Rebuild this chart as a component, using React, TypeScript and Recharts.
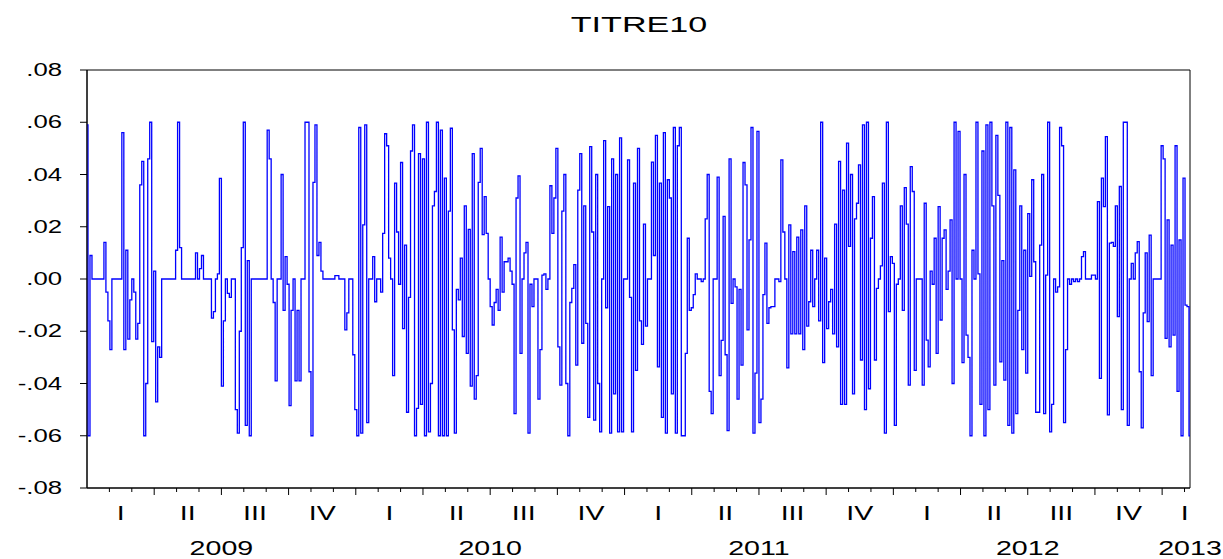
import { Line, LineChart, ReferenceArea, XAxis, YAxis } from "recharts";

const TITLE = "TITRE10";
const FONT = "'Liberation Sans', Arial, sans-serif";
const LINE_COLOR = "#0000ff";

// daily-ish returns, one list per year (evenly spaced through the year)
const Y2009 = [
  0.059, -0.06, 0.009, 0, 0, 0, 0, 0, 0, 0.014,
  -0.005, -0.016, -0.027, 0, 0, 0, 0, 0, 0.056, -0.027,
  0.011, -0.023, -0.008, 0, -0.005, -0.023, -0.017, 0.036, 0.045, -0.06,
  -0.04, 0.046, 0.06, -0.024, 0.003, -0.047, -0.026, -0.03, 0, 0,
  0, 0, 0, 0, 0, 0.011, 0.06, 0.012, 0, 0,
  0, 0, 0, 0, 0, 0.01, 0, 0.004, 0.009, 0,
  0, 0, 0, -0.015, -0.0125, 0, 0.002, 0.0385, -0.041, -0.016,
  0, -0.0055, -0.007, 0, 0, -0.05, -0.059, -0.02, 0.012, 0.06,
  -0.056, 0.007, -0.06, 0, 0, 0, 0, 0, 0, 0,
  0, 0.057, 0.046, 0, -0.009, -0.039, 0, 0, 0.04, -0.012,
  0.0086, -0.002, -0.0485, -0.012, 0, -0.039, -0.012, -0.039, 0, 0,
  0.06, 0.06, -0.0355, -0.06, 0.037, 0.059, 0.009, 0.014, 0.003, 0,
  0, 0, 0, 0, 0, 0.0013, 0.0013, 0, 0, 0,
  -0.0195, -0.013, 0, 0, -0.029,
];

const Y2010 = [
  -0.05, -0.06, 0.058, -0.059, 0.0207, 0.059, -0.055, 0, 0, 0.0086,
  -0.0087, 0, 0, -0.005, 0.0175, 0.0556, 0.051, 0.008, 0, -0.037,
  0.0367, 0.018, -0.002, 0.0446, -0.019, 0.013, -0.051, -0.007, 0.049, 0.059,
  -0.06, -0.0495, 0.048, -0.048, 0.046, -0.06, 0.06, -0.0585, -0.04, 0.028,
  0.0335, 0.06, -0.06, 0.057, -0.06, 0.0386, -0.06, 0.026, 0.0577, -0.0195,
  -0.059, -0.004, -0.008, 0.008, -0.022, 0.028, -0.0285, 0.019, -0.041, 0.048,
  -0.046, -0.037, 0.037, 0.05, 0.017, 0.0315, 0.0175, 0, -0.0106, -0.0176,
  -0.009, -0.004, -0.012, 0.016, -0.005, 0.0066, 0.0066, 0.008, 0.003, -0.002,
  -0.0515, 0.031, 0.0395, -0.0285, 0, 0.01, 0.014, -0.059, -0.002, -0.0106,
  0, 0, -0.046, -0.027, 0.0015, 0.002, -0.004, 0, 0.0357, 0.0175,
  0.031, 0.05, -0.026, -0.0406, 0.026, 0.04, -0.04, -0.06, -0.009, -0.0036,
  0.0055, -0.033, 0.034, 0.048, -0.0246, 0.028, -0.017, -0.053, 0.0507, 0.018,
  -0.054, 0.04, -0.04, -0.0585, 0, 0.053, -0.011, 0.0277, -0.059, 0.046,
  -0.044, 0.04, -0.0585, 0.054, -0.0585,
];

const Y2011 = [
  0, 0, 0.0456, -0.007, -0.0585, 0.0367, -0.035, 0.05, -0.016, -0.025,
  0.021, -0.018, 0, 0, 0.0447, 0.009, 0.055, -0.0336, 0.0367, -0.053,
  0.056, -0.059, 0.038, 0.031, -0.044, 0.058, -0.059, 0.051, 0.058, -0.06,
  -0.06, -0.0285, 0.0156, -0.012, -0.011, -0.006, 0.002, 0, 0, -0.001,
  0, 0.023, 0.04, -0.043, -0.0515, 0, 0, 0.039, -0.037, -0.0235,
  0.024, -0.029, -0.058, 0.046, -0.0093, 0, -0.003, -0.046, -0.004, -0.033,
  0.0446, 0.036, -0.0195, 0.015, 0.058, -0.059, -0.036, 0.0565, -0.055, -0.046,
  -0.006, 0.0137, -0.017, -0.011, -0.0106, -0.0106, 0, 0, -0.001, 0.0456,
  0.018, 0, -0.034, 0.0207, -0.021, 0.0105, -0.021, 0.016, -0.021, 0.0188,
  -0.027, 0.028, -0.018, -0.0087, 0.011, -0.0106, 0, 0.011, -0.016, 0.06,
  -0.032, 0.008, -0.019, -0.0087, -0.004, -0.021, 0.021, -0.026, 0.045, -0.048,
  0.034, -0.048, 0.052, 0.0125, 0.04, -0.044, 0.023, 0.029, 0.0437, -0.031,
  0.059, -0.05, 0.06, -0.042, 0.0156, 0.0315, -0.031, -0.0036, 0, 0.005,
  0.0367, -0.059, 0.06, -0.0125, 0.0086,
];

const Y2012 = [
  0.006, -0.056, -0.002, 0, 0.028, -0.012, 0.035, 0.021, -0.0406, 0.043,
  0.0335, -0.035, 0, 0, 0, -0.0406, 0.029, -0.0234, -0.0336, 0.003,
  -0.002, 0.0156, -0.0285, 0.0277, -0.0157, 0.0156, 0.0188, -0.004, 0.003, 0.0226,
  -0.04, 0.06, 0, 0.0565, 0, -0.032, 0.04, -0.0215, -0.03, -0.06,
  0.011, 0, 0.06, 0.002, -0.048, 0.049, -0.06, 0.059, -0.05, 0.06,
  0.028, -0.0406, 0.055, 0.032, -0.0317, 0.007, -0.0387, 0.06, -0.056, 0.058,
  -0.059, 0.0418, -0.0515, -0.012, 0.028, -0.027, 0.011, -0.036, 0.025, 0.001,
  0.038, 0.0066, -0.051, -0.051, 0.013, 0.04, -0.0515, 0.0015, 0.06, -0.0585,
  -0.048, 0, -0.005, -0.003, 0.058, 0.051, -0.055, -0.027, 0, -0.002,
  0, -0.001, 0, -0.001, 0, 0.0086, 0.0105, 0, 0, 0,
  0.0015, 0.0015, 0, 0.0296, -0.038, 0.0386, 0.0277, 0.0545, -0.052, 0.0137,
  0.014, 0.0125, 0.028, -0.0144, 0.0354, -0.05, 0.06, 0.06, -0.056, 0,
  0.006, 0, 0.01, 0.0143, -0.0355, -0.057, -0.013, 0.01, -0.0163, 0.0168,
  -0.037, 0, 0, 0, 0,
];

const Y2013 = [
  0.051, 0.046, -0.0227, 0.0226, -0.026, 0.013, -0.0215, 0.051, -0.043, 0.015,
  -0.06, 0.0386, -0.01, -0.0106, -0.06,
];

const FULL_YEARS: [number, number[]][] = [
  [2009, Y2009],
  [2010, Y2010],
  [2011, Y2011],
  [2012, Y2012],
];
const STEP = 1 / 135;

const Y_TICKS = [-0.08, -0.06, -0.04, -0.02, 0, 0.02, 0.04, 0.06, 0.08];
const QUARTERS = ["I", "II", "III", "IV"];
const YEARS = [2009, 2010, 2011, 2012, 2013];

const X_START = 2009;
const X_END = 2013 + (Y2013.length - 1) * STEP;

const points = [
  ...FULL_YEARS.flatMap(([yr, vals]) => vals.map((v, i) => ({ x: yr + i / vals.length, v }))),
  ...Y2013.map((v, i) => ({ x: 2013 + i * STEP, v })),
];

const key = (v: number) => v.toFixed(5);

// month ticks (long on quarter boundaries)
const marks = new Map<string, number>();
for (let m = 1; X_START + m / 12 <= X_END + 1e-9; m++) {
  marks.set(key(X_START + m / 12), m % 3 === 0 ? 7 : 4);
}

// quarter + year labels
const labels = new Map<string, { text: string; row: number }[]>();
const addLabel = (v: number, text: string, row: number) => {
  const k = key(v);
  labels.set(k, [...(labels.get(k) ?? []), { text, row }]);
};
YEARS.forEach((yr) => {
  QUARTERS.forEach((q, i) => {
    if (yr + i / 4 < X_END) addLabel(Math.min(yr + (i + 0.5) / 4, X_END - 0.02), q, 0);
  });
  addLabel(Math.min(yr + 0.5, X_END), String(yr), 1);
});

const xTicks = Array.from(new Set([...marks.keys(), ...labels.keys()]))
  .map(Number)
  .sort((a, b) => a - b);

const fmtY = (v: number) => {
  if (Math.abs(v) < 1e-9) return ".00";
  return (v < 0 ? "-" : "") + Math.abs(v).toFixed(2).replace(/^0/, "");
};

function XTick({ x, y, payload }: any) {
  const k = key(payload.value);
  const len = marks.get(k);
  const labs = labels.get(k) ?? [];
  return (
    <g>
      {len ? <line x1={x} x2={x} y1={y} y2={y + len} stroke="#000" strokeWidth={1} /> : null}
      {labs.map((l) => (
        <text
          key={l.text}
          transform={`translate(${x},${y + (l.row ? 60 : 25)}) scale(1.43,1)`}
          textAnchor="middle"
          dominantBaseline="central"
          fontSize={20}
          fontFamily={FONT}
          fill="#000"
        >
          {l.text}
        </text>
      ))}
    </g>
  );
}

function YTick({ x, y, payload }: any) {
  return (
    <g>
      <line x1={x - 7} x2={x} y1={y} y2={y} stroke="#000" strokeWidth={1} />
      <text
        transform={`translate(${x - 25},${y}) scale(1.43,1)`}
        textAnchor="end"
        dominantBaseline="central"
        fontSize={18}
        fontFamily={FONT}
        fill="#000"
      >
        {fmtY(payload.value)}
      </text>
    </g>
  );
}

export default function App() {
  return (
    <div style={{ position: "absolute", left: 0, top: 0, width: 1223, height: 559, background: "#fff" }}>
      <div
        style={{
          position: "absolute",
          left: 638.5,
          top: 25,
          transform: "translate(-50%, -50%) scaleX(1.55)",
          fontFamily: FONT,
          fontSize: 22,
          lineHeight: 1,
          whiteSpace: "nowrap",
          color: "#000",
        }}
      >
        {TITLE}
      </div>
      <LineChart width={1223} height={559} data={points} margin={{ top: 70, right: 33, bottom: 0, left: 0 }}>
        <XAxis
          type="number"
          dataKey="x"
          domain={[X_START, X_END]}
          allowDataOverflow
          ticks={xTicks}
          interval={0}
          tickLine={false}
          tickSize={0}
          tickMargin={0}
          axisLine={{ stroke: "#000" }}
          tick={(p: any) => <XTick {...p} />}
          height={71}
        />
        <YAxis
          type="number"
          domain={[-0.08, 0.08]}
          allowDataOverflow
          ticks={Y_TICKS}
          interval={0}
          tickLine={false}
          tickSize={0}
          tickMargin={0}
          axisLine={{ stroke: "#000" }}
          tick={(p: any) => <YTick {...p} />}
          width={87}
        />
        <ReferenceArea x1={X_START} x2={X_END} y1={-0.08} y2={0.08} fill="none" stroke="#000" strokeWidth={1} />
        <Line
          type="step"
          dataKey="v"
          stroke={LINE_COLOR}
          strokeWidth={1.3}
          dot={false}
          activeDot={false}
          isAnimationActive={false}
        />
      </LineChart>
    </div>
  );
}
